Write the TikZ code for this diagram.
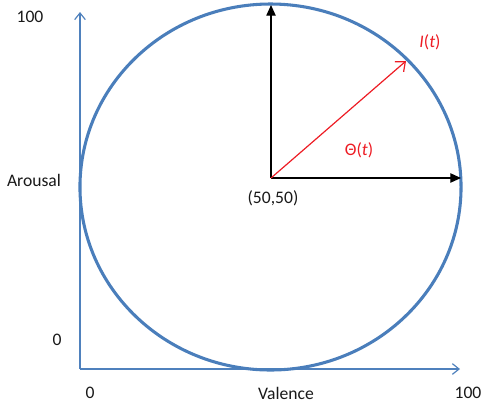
\documentclass[tikz,border=0pt]{standalone}
\usepackage{fontspec}
\setmainfont{Carlito}
\usetikzlibrary{arrows.meta}
\definecolor{axisblue}{RGB}{79,129,189}
\definecolor{circblue}{RGB}{74,126,187}
\definecolor{vred}{RGB}{237,28,36}
\begin{document}
\begin{tikzpicture}[x=0.75pt,y=-0.75pt,
  lbl/.style={font=\fontsize{13.2}{15}\selectfont, text=black!90, inner sep=0pt},
  rlbl/.style={font=\fontsize{13.2}{15}\selectfont, text=vred, inner sep=0pt},
  axisline/.style={draw=axisblue, line width=0.9pt, -{Straight Barb[length=5pt,width=8pt]}},
  blackarrow/.style={draw=black, line width=0.9pt, -{Triangle[length=8pt,width=7pt]}},
  redarrow/.style={draw=vred, line width=0.9pt, -{Straight Barb[length=6pt,width=10pt]}}]
\useasboundingbox (0,0) rectangle (481,408);
% axes
\coordinate (ax0) at (80,369);
\coordinate (axY) at (80,12);
\coordinate (axX) at (460,369);
\draw[axisline] (ax0) -- (axY);
\draw[axisline] (ax0) -- (axX);
% circle
\coordinate (cc) at (270.5,187);
\draw[circblue, line width=2.3pt] (cc) ellipse [x radius=142.9pt, y radius=137.25pt];
% vectors
\coordinate (o) at (271,178);
\coordinate (top) at (271,5);
\coordinate (right) at (461,178);
\coordinate (it) at (406,61);
\draw[blackarrow] (o) -- (top);
\draw[blackarrow] (o) -- (right);
\draw[redarrow] (o) -- (it);
% labels
\node[lbl] (y100) at (30,17) {100};
\node[lbl] (arousal) at (34,180) {Arousal};
\node[lbl] (y0) at (57,340) {0};
\node[lbl] (x0) at (90,393) {0};
\node[lbl] (valence) at (286,393) {Valence};
\node[lbl] (x100) at (468,393) {100};
\node[lbl] (center) at (273,198) {(50,50)};
\node[rlbl] (ilbl) at (430,42) {\textit{I}(\textit{t})};
\node[rlbl] (thlbl) at (359,150) {Θ(\textit{t})};
\end{tikzpicture}
\end{document}
